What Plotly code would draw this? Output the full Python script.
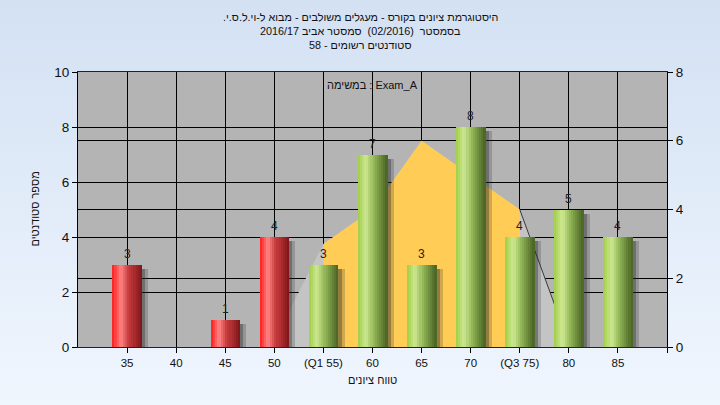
import base64
import plotly.graph_objects as go

# ---------------- data ----------------
categories = [35, 40, 45, 50, 55, 60, 65, 70, 75, 80, 85]
tick_labels = ["35", "40", "45", "50", "(Q1 55)", "60", "65", "70", "(Q3 75)", "80", "85"]
counts = [3, 0, 1, 4, 3, 7, 3, 8, 4, 5, 4]
pass_mark = 55

curve_x = [50, 55, 60, 65, 70, 75, 80]
curve_y = [0.2, 3, 4, 6, 5, 4, 0.1]
q1, q3 = 55, 75

title_lines = [
    "היסטוגרמת ציונים בקורס - מעגלים משולבים - מבוא ל-וי.ל.ס.י.",
    "בסמסטר  (02/2016)  סמסטר אביב 2016/17",
    "סטודנטים רשומים - 58",
]
x_title = "טווח ציונים"
y_title = "מספר סטודנטים"
task_label = "במשימה : Exam_A"

FONT = "Liberation Sans, Arial, sans-serif"
RLM = "\u200F"

# ---------------- helpers ----------------
def grad(t, stops):
    for (t0, c0), (t1, c1) in zip(stops, stops[1:]):
        if t <= t1:
            f = (t - t0) / (t1 - t0) if t1 > t0 else 0
            return "rgb(%d,%d,%d)" % tuple(round(a + (b - a) * f) for a, b in zip(c0, c1))
    return "rgb(%d,%d,%d)" % stops[-1][1]

red_stops = [(0, (255, 25, 25)), (0.28, (255, 135, 135)), (0.55, (200, 60, 60)), (1, (125, 20, 25))]
green_stops = [(0, (160, 205, 70)), (0.28, (205, 232, 145)), (0.55, (145, 180, 85)), (1, (72, 98, 35))]

fig = go.Figure()

# ---- normal-curve areas (main y: right axis 0-8) ----
fig.add_trace(go.Scatter(x=curve_x, y=curve_y, mode="lines", fill="tozeroy",
                         fillcolor="#c4c4c4", line=dict(width=0, color="#c4c4c4"),
                         hoverinfo="skip", showlegend=False, yaxis="y"))
qx = [x for x in curve_x if q1 <= x <= q3]
qy = [y for x, y in zip(curve_x, curve_y) if q1 <= x <= q3]
fig.add_trace(go.Scatter(x=qx, y=qy, mode="lines", fill="tozeroy",
                         fillcolor="#ffcc55", line=dict(width=0, color="#ffcc55"),
                         hoverinfo="skip", showlegend=False, yaxis="y"))
rx = [x for x in curve_x if x >= q3]
ry = [y for x, y in zip(curve_x, curve_y) if x >= q3]
fig.add_trace(go.Scatter(x=rx, y=ry, mode="lines", line=dict(width=1, color="#3a3a3a"),
                         hoverinfo="skip", showlegend=False, yaxis="y"))

# ---- bars (y2: left axis 0-10) ----
BW = 3.0
shadow_y = [max(v - 0.15, 0) for v in counts]
for off, alpha in [(0.65, 0.22), (0.35, 0.35)]:
    fig.add_trace(go.Bar(x=categories, y=shadow_y, width=BW, offset=-BW / 2 + off,
                         marker=dict(color="rgba(40,40,40,%s)" % alpha, line=dict(width=0)),
                         hoverinfo="skip", showlegend=False, yaxis="y2"))

N = 14
sw = BW / N
for i in range(N):
    t = (i + 0.5) / N
    cols = [grad(t, red_stops) if c < pass_mark else grad(t, green_stops) for c in categories]
    fig.add_trace(go.Bar(x=categories, y=counts, width=sw * 1.15, offset=-BW / 2 + i * sw,
                         marker=dict(color=cols, line=dict(width=0)),
                         hoverinfo="skip", showlegend=False, yaxis="y2"))

# ---------------- background gradient ----------------
svg = ('<svg xmlns="http://www.w3.org/2000/svg" width="720" height="405" preserveAspectRatio="none">'
       '<defs><linearGradient id="g" x1="0" y1="0" x2="0" y2="1">'
       '<stop offset="0" stop-color="#d3e1f3"/><stop offset="1" stop-color="#f0f6fe"/>'
       '</linearGradient></defs><rect width="720" height="405" fill="url(#g)"/></svg>')
src = "data:image/svg+xml;base64," + base64.b64encode(svg.encode()).decode()

L, R, T, B = 78, 53, 72, 58
PW, PH = 720 - L - R, 405 - T - B

def px(xp):
    return (xp - L) / PW

def py(yp):
    return (405 - B - yp) / PH

axis_common = dict(ticks="outside", ticklen=5, tickcolor="#000", showline=True,
                   linecolor="#000", linewidth=1, showgrid=True, gridcolor="#000",
                   gridwidth=1, zeroline=False, automargin=False,
                   tickfont=dict(family=FONT, size=13.5, color="#111"))

fig.update_layout(
    width=720, height=405,
    margin=dict(l=L, r=R, t=T, b=B, autoexpand=False),
    paper_bgcolor="#e2ecf8", plot_bgcolor="#b4b4b4",
    barmode="overlay", bargap=0,
    xaxis=dict(range=[30, 90], tickvals=categories + [90], ticktext=tick_labels + [""],
               ticks="outside", ticklen=5, tickcolor="#000", showline=True, mirror=True,
               linecolor="#222", showgrid=True, gridcolor="#000", zeroline=False,
               automargin=False,
               tickfont=dict(family=FONT, size=11.5, color="#111")),
    yaxis=dict(range=[0, 8], dtick=2, side="right", **axis_common),
    yaxis2=dict(range=[0, 10], dtick=2, side="left", overlaying="y", **axis_common),
    images=[dict(source=src, xref="paper", yref="paper", x=-L / PW, y=1 + T / PH,
                 sizex=720 / PW, sizey=405 / PH, sizing="stretch",
                 xanchor="left", yanchor="top", layer="below")],
    shapes=[dict(type="rect", xref="x domain", yref="y domain", x0=0, x1=1, y0=0, y1=1,
                 fillcolor="#b4b4b4", line=dict(width=0), layer="below")],
    showlegend=False,
)

ann = []
for i, line in enumerate(title_lines):
    ypix = 17 + 14 * i
    ann.append(dict(text=RLM + line + RLM, xref="paper", yref="paper",
                    x=px(360), y=py(ypix), showarrow=False,
                    xanchor="center", yanchor="middle",
                    font=dict(family=FONT, size=10.8, color="#111")))
ann.append(dict(text=x_title, xref="paper", yref="paper", x=0.5, y=py(380),
                showarrow=False, xanchor="center", yanchor="middle",
                font=dict(family=FONT, size=11, color="#111")))
ann.append(dict(text=y_title, xref="paper", yref="paper", x=px(34), y=0.5,
                showarrow=False, xanchor="center", yanchor="middle", textangle=-90,
                font=dict(family=FONT, size=11, color="#111")))
ann.append(dict(text=task_label, xref="paper", yref="paper", x=0.5, y=py(85),
                showarrow=False, xanchor="center", yanchor="middle",
                font=dict(family=FONT, size=11, color="#111")))

# bar value labels
for c, v in zip(categories, counts):
    if v > 0:
        ann.append(dict(text=str(v), x=c, y=v, xref="x", yref="y2", showarrow=False,
                        xanchor="center", yanchor="middle", yshift=11,
                        font=dict(family=FONT, size=12, color="#222")))
fig.update_layout(annotations=ann)

fig.write_html("out.html", config={"displayModeBar": False},
               post_script="document.body.style.margin='0';")
